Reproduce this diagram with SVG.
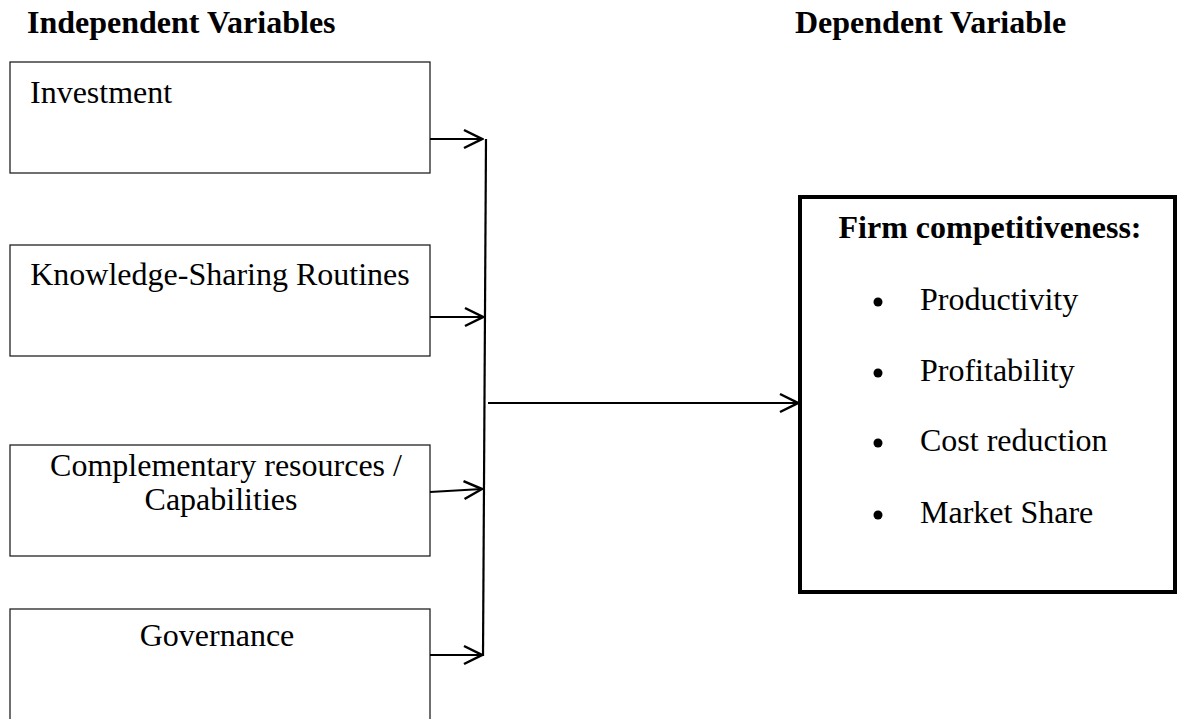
<svg xmlns="http://www.w3.org/2000/svg" width="1181" height="719" viewBox="0 0 1181 719">
<style>
text{font-family:"Liberation Serif","Times New Roman",serif;fill:#000;font-size:32px}
.hdr{font-weight:bold}
.box{fill:#fff;stroke:#222;stroke-width:1.3}
.big{fill:#fff;stroke:#000;stroke-width:4}
.conn{fill:none;stroke:#000;stroke-width:2.2}
</style>
<defs>
<marker id="arr" viewBox="-21 -11 23 22" markerWidth="23" markerHeight="22" refX="0" refY="0" orient="auto" markerUnits="userSpaceOnUse">
<path d="M-18,-9 L0,0 L-18,9" fill="none" stroke="#000" stroke-width="2.5"/>
</marker>
</defs>
<rect width="1181" height="719" fill="#fff"/>
<g id="headers">
<text class="hdr" x="27" y="33">Independent Variables</text>
<text class="hdr" x="795" y="33">Dependent Variable</text>
</g>
<g id="n-investment">
<rect class="box" x="10" y="62" width="420" height="111"/>
<text x="30" y="103">Investment</text>
</g>
<g id="n-knowledge">
<rect class="box" x="10" y="245" width="420" height="111"/>
<text x="220" y="285" text-anchor="middle">Knowledge-Sharing Routines</text>
</g>
<g id="n-complementary">
<rect class="box" x="10" y="445" width="420" height="111"/>
<text x="226" y="476" text-anchor="middle">Complementary resources /</text>
<text x="221" y="510" text-anchor="middle">Capabilities</text>
</g>
<g id="n-governance">
<rect class="box" x="10" y="609" width="420" height="120"/>
<text x="217" y="646" text-anchor="middle">Governance</text>
</g>
<g id="n-competitiveness">
<rect class="big" x="800" y="197" width="375" height="395"/>
<text class="hdr" x="990" y="238" text-anchor="middle">Firm competitiveness:</text>
<circle cx="878" cy="302" r="4.5"/>
<text x="920" y="310">Productivity</text>
<circle cx="878" cy="373" r="4.5"/>
<text x="920" y="381">Profitability</text>
<circle cx="878" cy="443" r="4.5"/>
<text x="920" y="451">Cost reduction</text>
<circle cx="878" cy="515" r="4.5"/>
<text x="920" y="523">Market Share</text>
</g>
<g id="connectors">
<line class="conn" x1="486" y1="139" x2="483" y2="656"/>
<line class="conn" x1="430" y1="139" x2="482" y2="139" marker-end="url(#arr)"/>
<line class="conn" x1="430" y1="317" x2="483" y2="317" marker-end="url(#arr)"/>
<line class="conn" x1="430" y1="492" x2="482" y2="489" marker-end="url(#arr)"/>
<line class="conn" x1="430" y1="655" x2="482" y2="655" marker-end="url(#arr)"/>
<line class="conn" x1="488" y1="403" x2="798" y2="403" marker-end="url(#arr)"/>
</g>
</svg>
